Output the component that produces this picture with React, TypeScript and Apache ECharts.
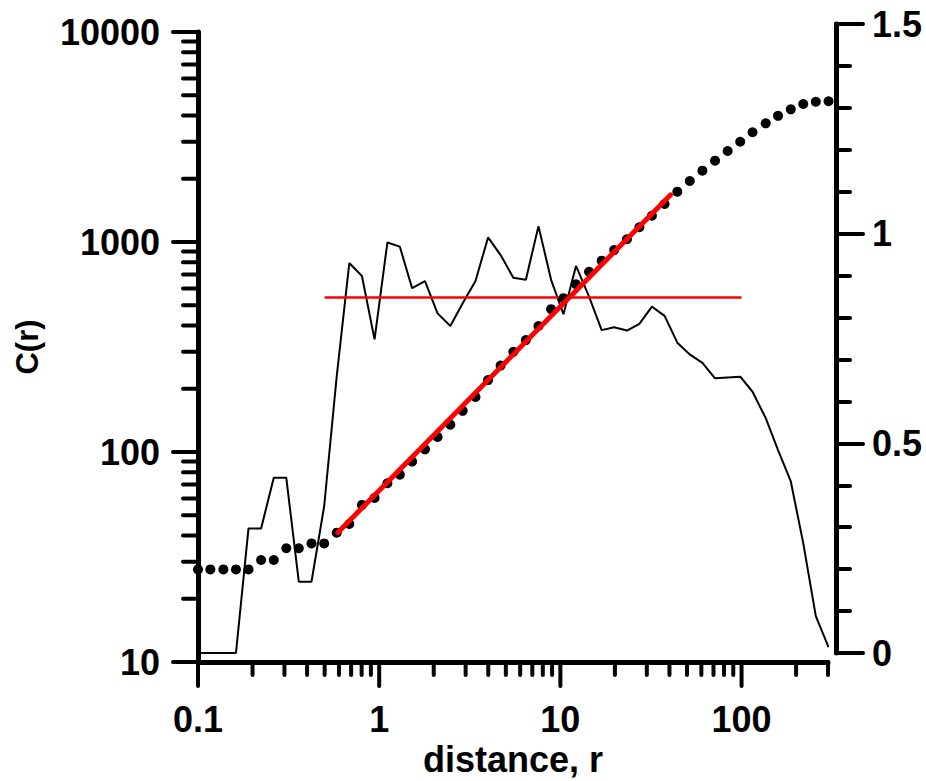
import React, { useEffect, useRef } from "react";
import * as echarts from "echarts";

// distance r (log-spaced sampling)
const distances = [
  0.1, 0.117, 0.138, 0.162, 0.19, 0.223, 0.262, 0.307, 0.36, 0.423,
  0.497, 0.583, 0.684, 0.803, 0.943, 1.11, 1.3, 1.52, 1.79, 2.1,
  2.47, 2.89, 3.4, 3.99, 4.68, 5.5, 6.45, 7.57, 8.89, 10.4,
  12.2, 14.4, 16.9, 19.8, 23.3, 27.3, 32.0, 37.6, 44.2, 51.8,
  60.8, 71.4, 83.8, 98.3, 115, 136, 159, 187, 219, 257, 302,
];

// C(r), left log axis (dotted series)
const correlation = [
  27.6, 27.6, 27.6, 27.6, 27.6, 30.6, 30.6, 34.8, 34.8, 36.7,
  36.7, 41.3, 45.4, 56, 60.4, 71, 78, 90, 103, 118,
  135, 157, 183, 220, 258, 300, 341, 398, 479, 540,
  629, 722, 815, 915, 1031, 1175, 1334, 1517, 1737, 1952,
  2187, 2440, 2712, 3003, 3330, 3673, 3990, 4282, 4539, 4656, 4680,
];

// local slope curve, right linear axis (thin black line)
const localSlope = [
  0, 0, 0, 0, 0.297, 0.297, 0.418, 0.418, 0.17, 0.17,
  0.35, 0.66, 0.93, 0.899, 0.748, 0.979, 0.969, 0.87, 0.887, 0.81,
  0.78, 0.834, 0.887, 0.991, 0.949, 0.895, 0.89, 1.018, 0.89, 0.808,
  0.923, 0.85, 0.77, 0.777, 0.769, 0.785, 0.826, 0.804, 0.74, 0.712,
  0.692, 0.655, 0.657, 0.659, 0.623, 0.56, 0.484, 0.409, 0.262, 0.088, 0.014,
];

// power-law fit (thick red line), endpoints in data units
const fitX = [0.59, 40.5];
const fitY = [41.3, 1676];

// mean slope (thin red line), right axis
const meanX = [0.5, 100];
const meanLevel = 0.848;

const xMajorTicks = [0.1, 1, 10, 100];
const xMinorTicks = [
  0.2, 0.3, 0.4, 0.5, 0.6, 0.7, 0.8, 0.9,
  2, 3, 4, 5, 6, 7, 8, 9,
  20, 30, 40, 50, 60, 70, 80, 90,
  200, 300,
];
const yMajorTicks = [10, 100, 1000, 10000];
const yMinorTicks = [
  20, 30, 40, 50, 60, 70, 80, 90,
  200, 300, 400, 500, 600, 700, 800, 900,
  2000, 3000, 4000, 5000, 6000, 7000, 8000, 9000,
];

const FONT = "'Liberation Sans', Arial, sans-serif";
const LABEL = { color: "#000", fontSize: 36, fontWeight: "bold" as const, fontFamily: FONT };

function majorLabel(list: number[]) {
  return (v: number) => {
    const t = list.find((m) => Math.abs(Math.log10(v / m)) < 1e-6);
    return t === undefined ? "" : String(t);
  };
}

export default function App() {
  const ref = useRef<HTMLDivElement>(null);
  useEffect(() => {
    if (!ref.current) return;
    const chart = echarts.init(ref.current, undefined, { renderer: "svg" });

    const xTickData = [
      ...xMajorTicks.map((t) => [t, yMajorTicks[0], 1]),
      ...xMinorTicks.map((t) => [t, yMajorTicks[0], 0]),
    ];
    const yTickData = [
      ...yMajorTicks.map((t) => [xMajorTicks[0], t, 1]),
      ...yMinorTicks.map((t) => [xMajorTicks[0], t, 0]),
    ];

    const option: any = {
      animation: false,
      backgroundColor: "#fff",
      grid: [
        { left: 198, right: 98, top: 32, bottom: 119, outerBoundsMode: "none" },
        { left: 198, right: 98, top: 24, bottom: 128, outerBoundsMode: "none" },
      ],
      xAxis: [
        {
          type: "log",
          gridIndex: 0,
          logBase: 10,
          min: 0.1,
          max: 300,
          axisLine: { show: true, lineStyle: { color: "#000", width: 5 } },
          axisTick: { show: false },
          splitLine: { show: false },
          axisLabel: { ...LABEL, margin: 39, formatter: majorLabel(xMajorTicks) },
          name: "distance, r",
          nameLocation: "middle",
          nameGap: 72,
          nameTextStyle: { ...LABEL },
        },
        {
          type: "log",
          gridIndex: 1,
          logBase: 10,
          min: 0.1,
          max: 300,
          show: false,
        },
      ],
      yAxis: [
        {
          type: "log",
          gridIndex: 0,
          logBase: 10,
          min: 10,
          max: 10000,
          axisLine: { show: true, lineStyle: { color: "#000", width: 5 } },
          axisTick: { show: false },
          splitLine: { show: false },
          axisLabel: { ...LABEL, margin: 38, formatter: majorLabel(yMajorTicks) },
          name: "C(r)",
          nameLocation: "middle",
          nameGap: 155,
          nameTextStyle: { ...LABEL, fontSize: 31 },
        },
        {
          type: "value",
          gridIndex: 1,
          position: "right",
          offset: 8,
          min: 0,
          max: 1.5,
          interval: 0.5,
          axisLine: { show: true, lineStyle: { color: "#000", width: 5 } },
          axisTick: { show: true, length: 27, lineStyle: { color: "#000", width: 4, cap: "round" } },
          minorTick: { show: true, splitNumber: 5, length: 14, lineStyle: { color: "#000", width: 4, cap: "round" } },
          splitLine: { show: false },
          axisLabel: { ...LABEL, margin: 36 },
        },
      ],
      series: [
        {
          type: "line",
          xAxisIndex: 1,
          yAxisIndex: 1,
          data: distances.map((d, i) => [d, localSlope[i]]),
          showSymbol: false,
          clip: false,
          lineStyle: { color: "#000", width: 2 },
          z: 2,
        },
        {
          type: "line",
          xAxisIndex: 1,
          yAxisIndex: 1,
          data: meanX.map((d) => [d, meanLevel]),
          showSymbol: false,
          lineStyle: { color: "#ff0000", width: 2.5 },
          z: 3,
        },
        {
          type: "scatter",
          xAxisIndex: 0,
          yAxisIndex: 0,
          data: distances.map((d, i) => [d, correlation[i]]),
          symbol: "circle",
          symbolSize: 10,
          clip: false,
          itemStyle: { color: "#000", opacity: 1 },
          z: 4,
        },
        {
          type: "line",
          xAxisIndex: 0,
          yAxisIndex: 0,
          data: fitX.map((d, i) => [d, fitY[i]]),
          showSymbol: false,
          lineStyle: { color: "#ff0000", width: 5, cap: "round" },
          z: 5,
        },
        {
          type: "custom",
          xAxisIndex: 0,
          yAxisIndex: 0,
          clip: false,
          silent: true,
          z: 6,
          encode: { x: 0, y: 1 },
          data: xTickData,
          renderItem: (_p: any, api: any) => {
            const pt = api.coord([api.value(0), api.value(1)]);
            const len = api.value(2) ? 24 : 13;
            return {
              type: "line",
              shape: { x1: pt[0], y1: pt[1], x2: pt[0], y2: pt[1] + len },
              style: { stroke: "#000", lineWidth: 4, lineCap: "round" },
            };
          },
        },
        {
          type: "custom",
          xAxisIndex: 0,
          yAxisIndex: 0,
          clip: false,
          silent: true,
          z: 6,
          encode: { x: 0, y: 1 },
          data: yTickData,
          renderItem: (_p: any, api: any) => {
            const pt = api.coord([api.value(0), api.value(1)]);
            const len = api.value(2) ? 25 : 15;
            return {
              type: "line",
              shape: { x1: pt[0], y1: pt[1], x2: pt[0] - len, y2: pt[1] },
              style: { stroke: "#000", lineWidth: 4, lineCap: "round" },
            };
          },
        },
      ],
    };
    chart.setOption(option);
    return () => chart.dispose();
  }, []);
  return (
    <div
      ref={ref}
      style={{ position: "fixed", left: 0, top: 0, width: 926, height: 781, background: "#fff" }}
    />
  );
}
